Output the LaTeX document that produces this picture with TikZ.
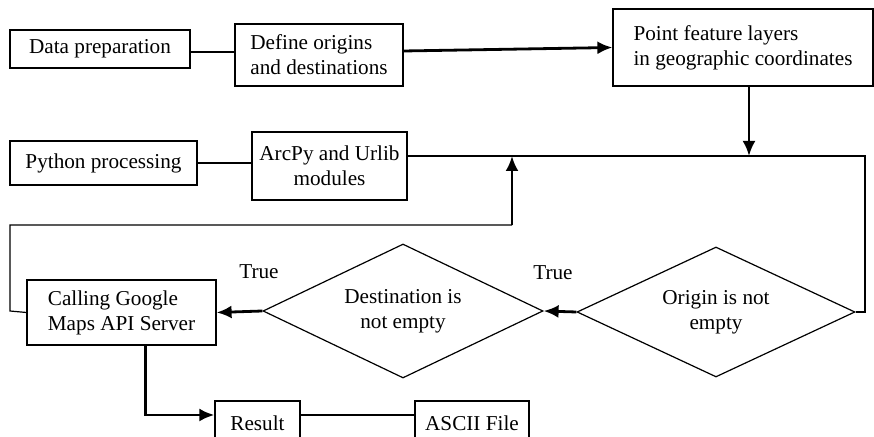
\documentclass[tikz,border=0pt]{standalone}
\usepackage{fontspec}
\setmainfont{Liberation Serif}
\usetikzlibrary{arrows.meta,shapes.geometric}
\begin{document}
\begin{tikzpicture}[x=0.5pt, y=-0.5pt,
    font=\fontsize{10.6}{12.5}\selectfont,
    box/.style={draw, line width=0.6pt, inner sep=0pt, align=left},
    test/.style={draw, line width=0.6pt, diamond, aspect=2.1, inner sep=0pt, align=center},
    flow/.style={line width=1.4pt, -{Latex[length=7.5pt, width=6.5pt]}},
    link/.style={line width=0.6pt}]
    \useasboundingbox (0,0) rectangle (874,437);
    % boxes and tests
    \node[box, minimum width=90pt, minimum height=19pt] (prep) at (100,49) {Data preparation};
    \node[box, minimum width=84pt, minimum height=31pt] (define) at (319,55) {Define origins\\and destinations};
    \node[box, minimum width=130pt, minimum height=38.5pt] (point) at (743,47.5) {Point feature layers\\in geographic coordinates};
    \node[box, minimum width=93.5pt, minimum height=22pt] (python) at (103.5,163) {Python processing};
    \node[box, align=center, minimum width=77.5pt, minimum height=34pt] (arcpy) at (329.5,166) {ArcPy and Urlib\\modules};
    \node[box, minimum width=94.5pt, minimum height=32.5pt] (calling) at (121.5,312.5) {Calling Google\\Maps API Server};
    \node[box, minimum width=42.5pt, minimum height=22pt] (result) at (257.5,423) {Result};
    \node[box, minimum width=57pt, minimum height=22pt] (ascii) at (472,423) {ASCII File};
    \node[test, minimum width=140pt, minimum height=67pt] (dest) at (403,311) {Destination is\\not empty};
    \node[test, minimum width=139pt, minimum height=65pt] (orig) at (716,312) {Origin is not\\empty};
    \node (true1) at (259,272) {True};
    \node (true2) at (553,273) {True};
    \coordinate (loopR) at (865,156);
    \coordinate (loopL) at (512,225);
    % connectors
    \draw[link] ([yshift=-1.5pt]prep.east) -- ([yshift=-1.5pt]prep.east -| define.west);
    \draw[flow] ([yshift=2pt]define.east) -- (point.west);
    \draw[flow] ([xshift=3pt]point.south) -- ([xshift=3pt]point.south |- loopR);
    \draw[link] ([yshift=5pt]arcpy.east) -- (loopR) |- (orig.east);
    \draw[link] (python.east) -- (python.east -| arcpy.west);
    \draw[flow] (loopL) -- (loopL |- loopR);
    \draw[link] (loopL) -| (10,311) -- (calling.west);
    \draw[flow] (orig.west) -- (dest.east);
    \draw[flow] (dest.west) -- (calling.east);
    \draw[flow] ([xshift=12pt]calling.south) |- ([yshift=4pt]result.west);
    \draw[link] ([yshift=4pt]result.east) -- ([yshift=4pt]ascii.west);
\end{tikzpicture}
\end{document}
